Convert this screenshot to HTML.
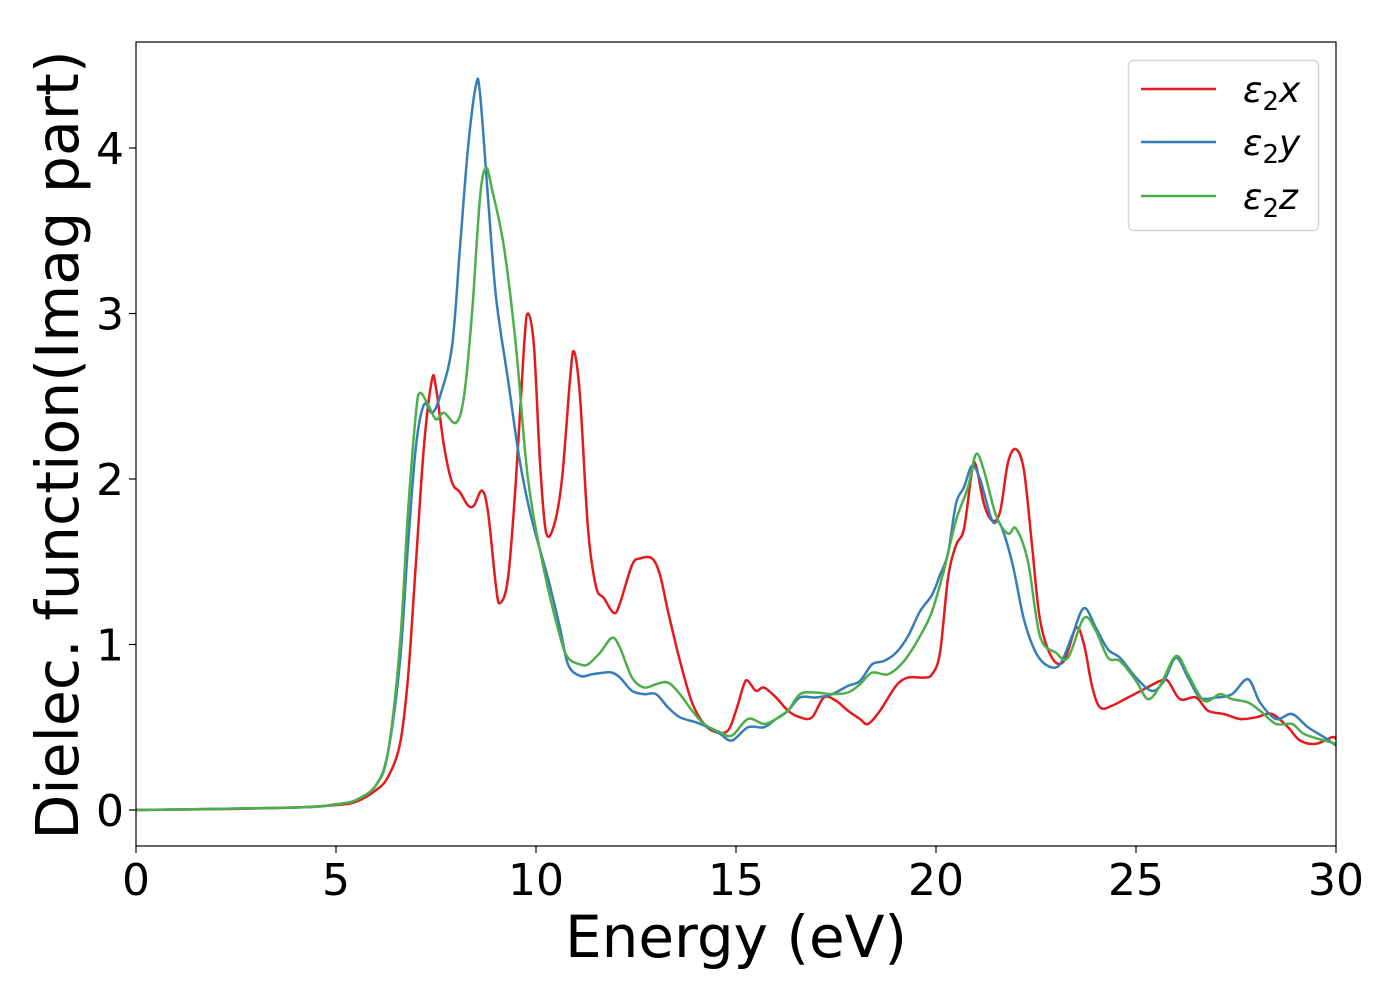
<!DOCTYPE html>
<html><head><meta charset="utf-8"><style>
html,body{margin:0;padding:0;background:#fff;}
svg{display:block;font-family:"DejaVu Sans","Liberation Sans",sans-serif;}
</style></head><body>
<svg id="chart" width="1400" height="1000" xmlns="http://www.w3.org/2000/svg">
<rect x="0" y="0" width="1400" height="1000" fill="#fff"/>
<g id="series"></g>
<g id="axes"></g>
<rect x="136" y="42" width="1200" height="804" fill="none" stroke="#000" stroke-width="1.2"/>
<text x="736" y="957" font-size="58" text-anchor="middle">Energy (eV)</text>
<text transform="translate(78,445) rotate(-90)" font-size="58.5" text-anchor="middle">Dielec. function(Imag part)</text>
<g>
<rect x="1128.5" y="60.5" width="190" height="170" rx="5" fill="#fff" stroke="#d6d6d6" stroke-width="1.5"/>
<line x1="1141" y1="89" x2="1216" y2="89" stroke="#e41a1c" stroke-width="2.5"/>
<line x1="1141" y1="142" x2="1216" y2="142" stroke="#377eb8" stroke-width="2.5"/>
<line x1="1141" y1="196" x2="1216" y2="196" stroke="#4daf4a" stroke-width="2.5"/>
<text x="1243" y="102" font-size="36" font-style="italic">ε<tspan font-style="normal" font-size="26" dy="8">2</tspan><tspan dy="-8">x</tspan></text>
<text x="1243" y="155" font-size="36" font-style="italic">ε<tspan font-style="normal" font-size="26" dy="8">2</tspan><tspan dy="-8">y</tspan></text>
<text x="1243" y="209" font-size="36" font-style="italic">ε<tspan font-style="normal" font-size="26" dy="8">2</tspan><tspan dy="-8">z</tspan></text>
</g>
</svg>
<script>
const xTicks=[0,5,10,15,20,25,30];
const yTicks=[0,1,2,3,4];
const energyX=[0,2,4,5,5.5,6,6.3,6.6,6.8,7.0,7.2,7.4,7.5,7.7,7.9,8.1,8.3,8.45,8.65,8.8,9.0,9.1,9.3,9.5,9.7,9.8,9.95,10.1,10.25,10.45,10.65,10.85,10.95,11.1,11.3,11.5,11.7,11.95,12.1,12.4,12.6,12.9,13.1,13.3,13.6,13.9,14.2,14.5,14.8,15.0,15.2,15.3,15.5,15.7,16.0,16.3,16.6,16.9,17.2,17.5,17.8,18.1,18.3,18.6,19.0,19.3,19.7,19.9,20.1,20.3,20.5,20.7,20.9,21.0,21.2,21.4,21.6,21.8,22.0,22.2,22.4,22.6,22.9,23.2,23.5,23.7,23.9,24.1,24.4,24.8,25.2,25.6,25.8,26.1,26.5,26.8,27.2,27.6,28.0,28.4,28.8,29.1,29.5,29.9,30];
const eps2x=[0,0.005,0.015,0.03,0.05,0.12,0.2,0.4,0.8,1.5,2.2,2.6,2.55,2.2,1.98,1.92,1.84,1.84,1.93,1.8,1.35,1.25,1.4,2.0,2.8,3.0,2.8,2.1,1.68,1.72,2.0,2.6,2.77,2.5,1.7,1.35,1.28,1.19,1.25,1.48,1.52,1.52,1.42,1.2,0.9,0.65,0.52,0.47,0.48,0.6,0.76,0.78,0.72,0.74,0.68,0.6,0.56,0.56,0.68,0.66,0.6,0.55,0.52,0.6,0.75,0.8,0.8,0.82,0.95,1.4,1.6,1.7,2.05,2.08,1.85,1.75,1.8,2.1,2.18,2.05,1.6,1.15,0.92,0.9,1.1,1.0,0.75,0.62,0.63,0.68,0.73,0.78,0.78,0.67,0.68,0.6,0.58,0.55,0.56,0.58,0.5,0.42,0.40,0.44,0.43];
const energyY=[0,4,5,5.5,6,6.3,6.6,6.8,7.0,7.2,7.4,7.6,7.9,8.1,8.3,8.5,8.6,8.8,9.0,9.3,9.6,9.9,10.3,10.6,10.8,11.1,11.4,11.7,11.9,12.1,12.4,12.7,13.0,13.3,13.6,14.0,14.3,14.6,14.9,15.3,15.7,16.0,16.3,16.6,17.0,17.4,17.8,18.1,18.4,18.7,19.0,19.3,19.6,19.9,20.1,20.3,20.5,20.7,20.9,21.1,21.4,21.6,21.9,22.2,22.5,22.8,23.1,23.4,23.7,24.0,24.3,24.6,25.0,25.4,25.7,26.0,26.3,26.6,27.0,27.4,27.8,28.1,28.5,28.9,29.3,29.7,30];
const eps2y=[0,0.015,0.035,0.06,0.15,0.35,0.9,1.6,2.2,2.45,2.4,2.5,2.8,3.4,4.0,4.38,4.33,3.7,3.1,2.6,2.1,1.75,1.4,1.1,0.88,0.81,0.82,0.83,0.83,0.8,0.72,0.7,0.7,0.62,0.56,0.53,0.5,0.46,0.42,0.5,0.5,0.55,0.6,0.68,0.68,0.7,0.75,0.78,0.88,0.9,0.95,1.05,1.2,1.3,1.42,1.55,1.85,1.95,2.08,2.0,1.75,1.73,1.5,1.15,0.95,0.87,0.88,1.05,1.22,1.1,0.97,0.92,0.8,0.72,0.78,0.92,0.8,0.68,0.68,0.7,0.79,0.65,0.55,0.58,0.5,0.44,0.39];
const energyZ=[0,4,5,5.5,6,6.3,6.6,6.8,7.0,7.1,7.3,7.5,7.7,8.0,8.2,8.4,8.6,8.75,8.9,9.2,9.5,9.8,10.2,10.6,10.8,11.1,11.3,11.6,11.9,12.1,12.4,12.7,13.0,13.3,13.6,13.9,14.2,14.6,14.9,15.3,15.7,16.0,16.3,16.6,17.0,17.4,17.8,18.1,18.4,18.8,19.2,19.6,19.9,20.2,20.5,20.8,21.0,21.2,21.5,21.8,22.0,22.3,22.6,23.0,23.3,23.7,24.0,24.3,24.6,25.0,25.3,25.6,26.0,26.3,26.7,27.1,27.4,27.8,28.1,28.5,28.9,29.2,29.7,30];
const eps2z=[0,0.015,0.035,0.06,0.15,0.35,1.0,1.8,2.4,2.52,2.45,2.36,2.4,2.34,2.5,3.0,3.7,3.88,3.75,3.4,2.8,2.0,1.45,1.05,0.92,0.88,0.88,0.95,1.04,0.98,0.8,0.74,0.76,0.77,0.7,0.6,0.52,0.47,0.45,0.55,0.52,0.55,0.6,0.7,0.71,0.7,0.71,0.76,0.83,0.82,0.9,1.05,1.2,1.45,1.75,1.95,2.15,2.05,1.78,1.67,1.7,1.5,1.05,0.95,0.92,1.16,1.08,0.92,0.9,0.78,0.67,0.75,0.93,0.82,0.66,0.7,0.67,0.65,0.6,0.52,0.52,0.46,0.42,0.4];

const NS='http://www.w3.org/2000/svg';
const xScale=v=>136+v*40;
const yScale=v=>810-v*165.5;

function smoothPath(xs,ys){
  const p=xs.map((x,i)=>[xScale(x),yScale(ys[i])]);
  let d='M'+p[0][0].toFixed(2)+','+p[0][1].toFixed(2);
  for(let i=0;i<p.length-1;i++){
    const p0=p[Math.max(0,i-1)],p1=p[i],p2=p[i+1],p3=p[Math.min(p.length-1,i+2)];
    const c1=[p1[0]+(p2[0]-p0[0])/6,p1[1]+(p2[1]-p0[1])/6];
    const c2=[p2[0]-(p3[0]-p1[0])/6,p2[1]-(p3[1]-p1[1])/6];
    d+=' C'+c1[0].toFixed(2)+','+c1[1].toFixed(2)+' '+c2[0].toFixed(2)+','+c2[1].toFixed(2)+' '+p2[0].toFixed(2)+','+p2[1].toFixed(2);
  }
  return d;
}
const sg=document.getElementById('series');
function addLine(xs,ys,color,name){
  const el=document.createElementNS(NS,'path');
  el.setAttribute('d',smoothPath(xs,ys));
  el.setAttribute('fill','none');
  el.setAttribute('stroke',color);
  el.setAttribute('stroke-width','2.5');
  
  
  sg.appendChild(el);
}
addLine(energyX,eps2x,'#e41a1c','line-eps2x');
addLine(energyY,eps2y,'#377eb8','line-eps2y');
addLine(energyZ,eps2z,'#4daf4a','line-eps2z');

const ax=document.getElementById('axes');
xTicks.forEach(t=>{
  const l=document.createElementNS(NS,'line');
  l.setAttribute('x1',xScale(t));l.setAttribute('x2',xScale(t));
  l.setAttribute('y1',846);l.setAttribute('y2',853);
  l.setAttribute('stroke','#000');l.setAttribute('stroke-width','1.2');
  
  
  ax.appendChild(l);
  const tx=document.createElementNS(NS,'text');
  tx.setAttribute('x',xScale(t));tx.setAttribute('y',895);
  tx.setAttribute('font-size','44');tx.setAttribute('text-anchor','middle');
  tx.textContent=t;
  
  
  ax.appendChild(tx);
});
yTicks.forEach(t=>{
  const l=document.createElementNS(NS,'line');
  l.setAttribute('x1',129);l.setAttribute('x2',136);
  l.setAttribute('y1',yScale(t));l.setAttribute('y2',yScale(t));
  l.setAttribute('stroke','#000');l.setAttribute('stroke-width','1.2');
  
  
  ax.appendChild(l);
  const tx=document.createElementNS(NS,'text');
  tx.setAttribute('x',124);tx.setAttribute('y',yScale(t)+16);
  tx.setAttribute('font-size','44');tx.setAttribute('text-anchor','end');
  tx.textContent=t;
  
  
  ax.appendChild(tx);
});
</script>
</body></html>
